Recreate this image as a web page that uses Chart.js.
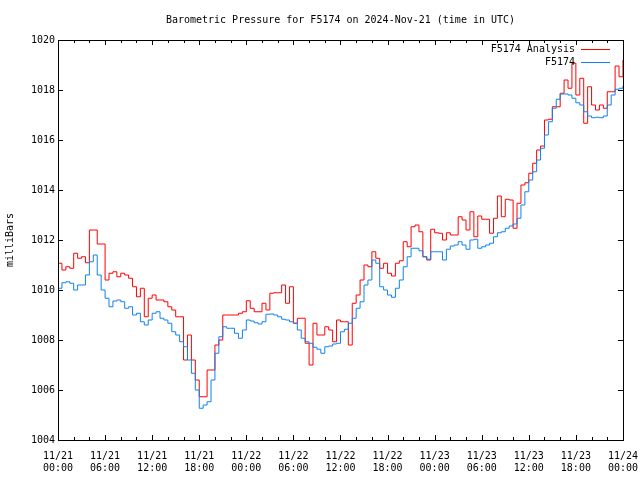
<!DOCTYPE html>
<html>
<head>
<meta charset="utf-8">
<script src="https://cdn.jsdelivr.net/npm/chart.js@4/dist/chart.umd.min.js"></script>
<style>
  html, body { margin: 0; padding: 0; background: #fff; }
  canvas { display: block; }
</style>
</head>
<body>
<canvas id="pressureChart" width="640" height="480"></canvas>
<script>
// half-hour steps since 2024-11-21 00:00 UTC
const hours = [];
for (let i = 0; i <= 144; i++) hours.push(i / 2);

// F5174 Analysis (red)
const analysis = [
  1011.07, 1010.8, 1010.93, 1010.87, 1011.47, 1011.27, 1011.33, 1011.09, 1012.4, 1012.4,
  1011.84, 1011.84, 1010.4, 1010.67, 1010.73, 1010.53, 1010.67, 1010.6, 1010.47, 1010.13,
  1009.73, 1010.07, 1008.93, 1009.67, 1009.8, 1009.6, 1009.6, 1009.53, 1009.33, 1009.2,
  1008.93, 1008.93, 1007.2, 1008.2, 1007.2, 1006.4, 1005.73, 1005.73, 1006.8, 1006.8,
  1007.8, 1008.0, 1009.0, 1009.0, 1009.0, 1009.0, 1009.07, 1009.13, 1009.57, 1009.27,
  1009.13, 1009.13, 1009.47, 1009.2, 1009.87, 1009.89, 1009.89, 1010.2, 1009.47, 1010.13,
  1008.67, 1008.87, 1008.87, 1007.87, 1007.0, 1008.67, 1008.2, 1008.2, 1008.53, 1008.4,
  1007.93, 1008.8, 1008.73, 1008.73, 1007.8, 1009.47, 1009.8, 1010.4, 1011.0, 1010.93,
  1011.53, 1011.27, 1010.87, 1011.07, 1010.67, 1010.56, 1011.07, 1011.17, 1011.93, 1011.73,
  1012.53, 1012.6, 1012.33, 1011.33, 1011.2, 1012.43, 1012.29, 1012.27, 1012.0, 1012.29,
  1012.2, 1012.2, 1012.93, 1012.8, 1012.4, 1013.13, 1012.13, 1012.96, 1012.83, 1012.83,
  1012.27, 1012.87, 1013.76, 1012.93, 1013.63, 1013.6, 1012.47, 1013.47, 1014.2, 1014.29,
  1014.67, 1015.07, 1015.6, 1015.76, 1016.8, 1016.83, 1017.33, 1017.33, 1017.87, 1018.4,
  1018.07, 1019.07, 1017.8, 1018.47, 1016.67, 1018.13, 1017.4, 1017.2, 1017.4, 1017.27,
  1017.93, 1017.93, 1018.96, 1018.53, 1019.2
];

// F5174 station (blue)
const station = [
  1010.07, 1010.29, 1010.33, 1010.27, 1010.0, 1010.2, 1010.2, 1010.6, 1011.13, 1011.4,
  1010.6, 1010.0, 1009.67, 1009.33, 1009.56, 1009.6, 1009.53, 1009.27, 1009.33, 1009.0,
  1009.07, 1008.73, 1008.6, 1008.8, 1009.07, 1009.13, 1008.87, 1008.8, 1008.67, 1008.33,
  1008.2, 1007.93, 1007.73, 1007.2, 1006.67, 1006.0, 1005.27, 1005.4, 1005.53, 1006.4,
  1007.47, 1008.13, 1008.53, 1008.47, 1008.47, 1008.27, 1008.07, 1008.4, 1008.8, 1008.76,
  1008.69, 1008.64, 1008.73, 1009.03, 1009.04, 1009.0, 1008.93, 1008.83, 1008.8, 1008.73,
  1008.67, 1008.4, 1008.07, 1007.93, 1007.87, 1007.71, 1007.63, 1007.47, 1007.73, 1007.76,
  1007.84, 1007.87, 1008.33, 1008.43, 1008.67, 1008.87, 1009.27, 1009.53, 1010.2, 1010.4,
  1011.2, 1011.07, 1010.13, 1010.0, 1009.8, 1009.71, 1010.07, 1010.4, 1010.93, 1011.33,
  1011.67, 1011.67, 1011.57, 1011.33, 1011.23, 1011.53, 1011.53, 1011.53, 1011.2, 1011.63,
  1011.76, 1011.8, 1011.93, 1011.8, 1011.63, 1012.0, 1012.03, 1011.67, 1011.73, 1011.8,
  1011.87, 1012.13, 1012.29, 1012.33, 1012.47, 1012.56, 1012.64, 1012.87, 1013.4, 1013.93,
  1014.4, 1014.73, 1015.2, 1015.67, 1016.2, 1016.73, 1017.27, 1017.63, 1017.84, 1017.84,
  1017.8, 1017.67, 1017.49, 1017.4, 1017.13, 1016.96, 1016.89, 1016.91, 1016.89, 1016.96,
  1017.4, 1017.8, 1018.03, 1018.07, 1018.16
];

const dayLabels = ['11/21', '11/22', '11/23', '11/24'];
const timeLabels = ['00:00', '06:00', '12:00', '18:00'];
const chartTitle = 'Barometric Pressure for F5174 on 2024-Nov-21 (time in UTC)';

const FONT = 'DejaVu Sans Mono';

const toPoints = (vals) => vals.map((v, i) => ({ x: hours[i], y: v }));

// gnuplot style frame with inward ticks, title and legend
const framePlugin = {
  id: 'frame',
  afterDraw(chart) {
    const { ctx, chartArea: a, scales } = chart;
    ctx.save();
    ctx.strokeStyle = '#000';
    ctx.lineWidth = 1;
    ctx.strokeRect(Math.round(a.left) + 0.5, Math.round(a.top) + 0.5,
      Math.round(a.right - a.left), Math.round(a.bottom - a.top));
    ctx.beginPath();
    scales.x.ticks.forEach(t => {
      const px = Math.round(scales.x.getPixelForValue(t.value)) + 0.5;
      const len = t.value % 6 === 0 ? 5 : 3;
      ctx.moveTo(px, a.bottom); ctx.lineTo(px, a.bottom - len);
      ctx.moveTo(px, a.top); ctx.lineTo(px, a.top + len);
    });
    scales.y.ticks.forEach(t => {
      const py = Math.round(scales.y.getPixelForValue(t.value)) + 0.5;
      ctx.moveTo(a.left, py); ctx.lineTo(a.left + 5, py);
      ctx.moveTo(a.right, py); ctx.lineTo(a.right - 5, py);
    });
    ctx.stroke();

    ctx.font = '10px ' + FONT;
    ctx.fillStyle = '#000';
    ctx.textBaseline = 'middle';

    // title, centred over the plot area
    ctx.textAlign = 'center';
    ctx.fillText(chartTitle, (a.left + a.right) / 2, 20);

    // legend
    ctx.textAlign = 'right';
    chart.data.datasets.forEach((ds, i) => {
      const y = 49 + i * 13;
      ctx.fillText(ds.label, 575, y);
      ctx.strokeStyle = ds.borderColor;
      ctx.beginPath();
      ctx.moveTo(581, y + 0.5); ctx.lineTo(610, y + 0.5);
      ctx.stroke();
    });
    ctx.restore();
  }
};

new Chart(document.getElementById('pressureChart'), {
  type: 'line',
  data: {
    datasets: [{
      label: 'F5174 Analysis',
      data: toPoints(analysis),
      borderColor: '#ff0000',
      borderWidth: 1,
      stepped: true,
      pointRadius: 0,
      order: 1
    }, {
      label: 'F5174',
      data: toPoints(station),
      borderColor: '#0f82f0',
      borderWidth: 1,
      stepped: true,
      pointRadius: 0,
      order: 0
    }]
  },
  options: {
    responsive: false,
    animation: false,
    devicePixelRatio: 1,
    layout: { padding: { top: 40, right: 17, left: 0, bottom: 0 } },
    scales: {
      x: {
        type: 'linear',
        min: 0,
        max: 72,
        grid: { display: false },
        border: { display: false },
        afterFit: (s) => { s.height = 40; },
        ticks: {
          stepSize: 2,
          autoSkip: false,
          maxRotation: 0,
          padding: 2,
          color: '#000',
          font: { family: FONT, size: 10 },
          callback: function(value) {
            if (value % 6 !== 0) return '';
            return [dayLabels[Math.floor(value / 24)], timeLabels[(value % 24) / 6]];
          }
        }
      },
      y: {
        min: 1004,
        max: 1020,
        grid: { display: false, drawTicks: false },
        border: { display: false },
        afterFit: (s) => { s.width = 58; },
        title: {
          display: true,
          text: 'milliBars',
          color: '#000',
          font: { family: FONT, size: 10 },
          padding: { top: 4, bottom: 0 }
        },
        ticks: {
          stepSize: 2,
          padding: 3,
          color: '#000',
          font: { family: FONT, size: 10 },
          callback: (value) => String(value)
        }
      }
    },
    plugins: {
      legend: { display: false },
      tooltip: { enabled: false },
      title: { display: false }
    }
  },
  plugins: [framePlugin]
});
</script>
</body>
</html>
